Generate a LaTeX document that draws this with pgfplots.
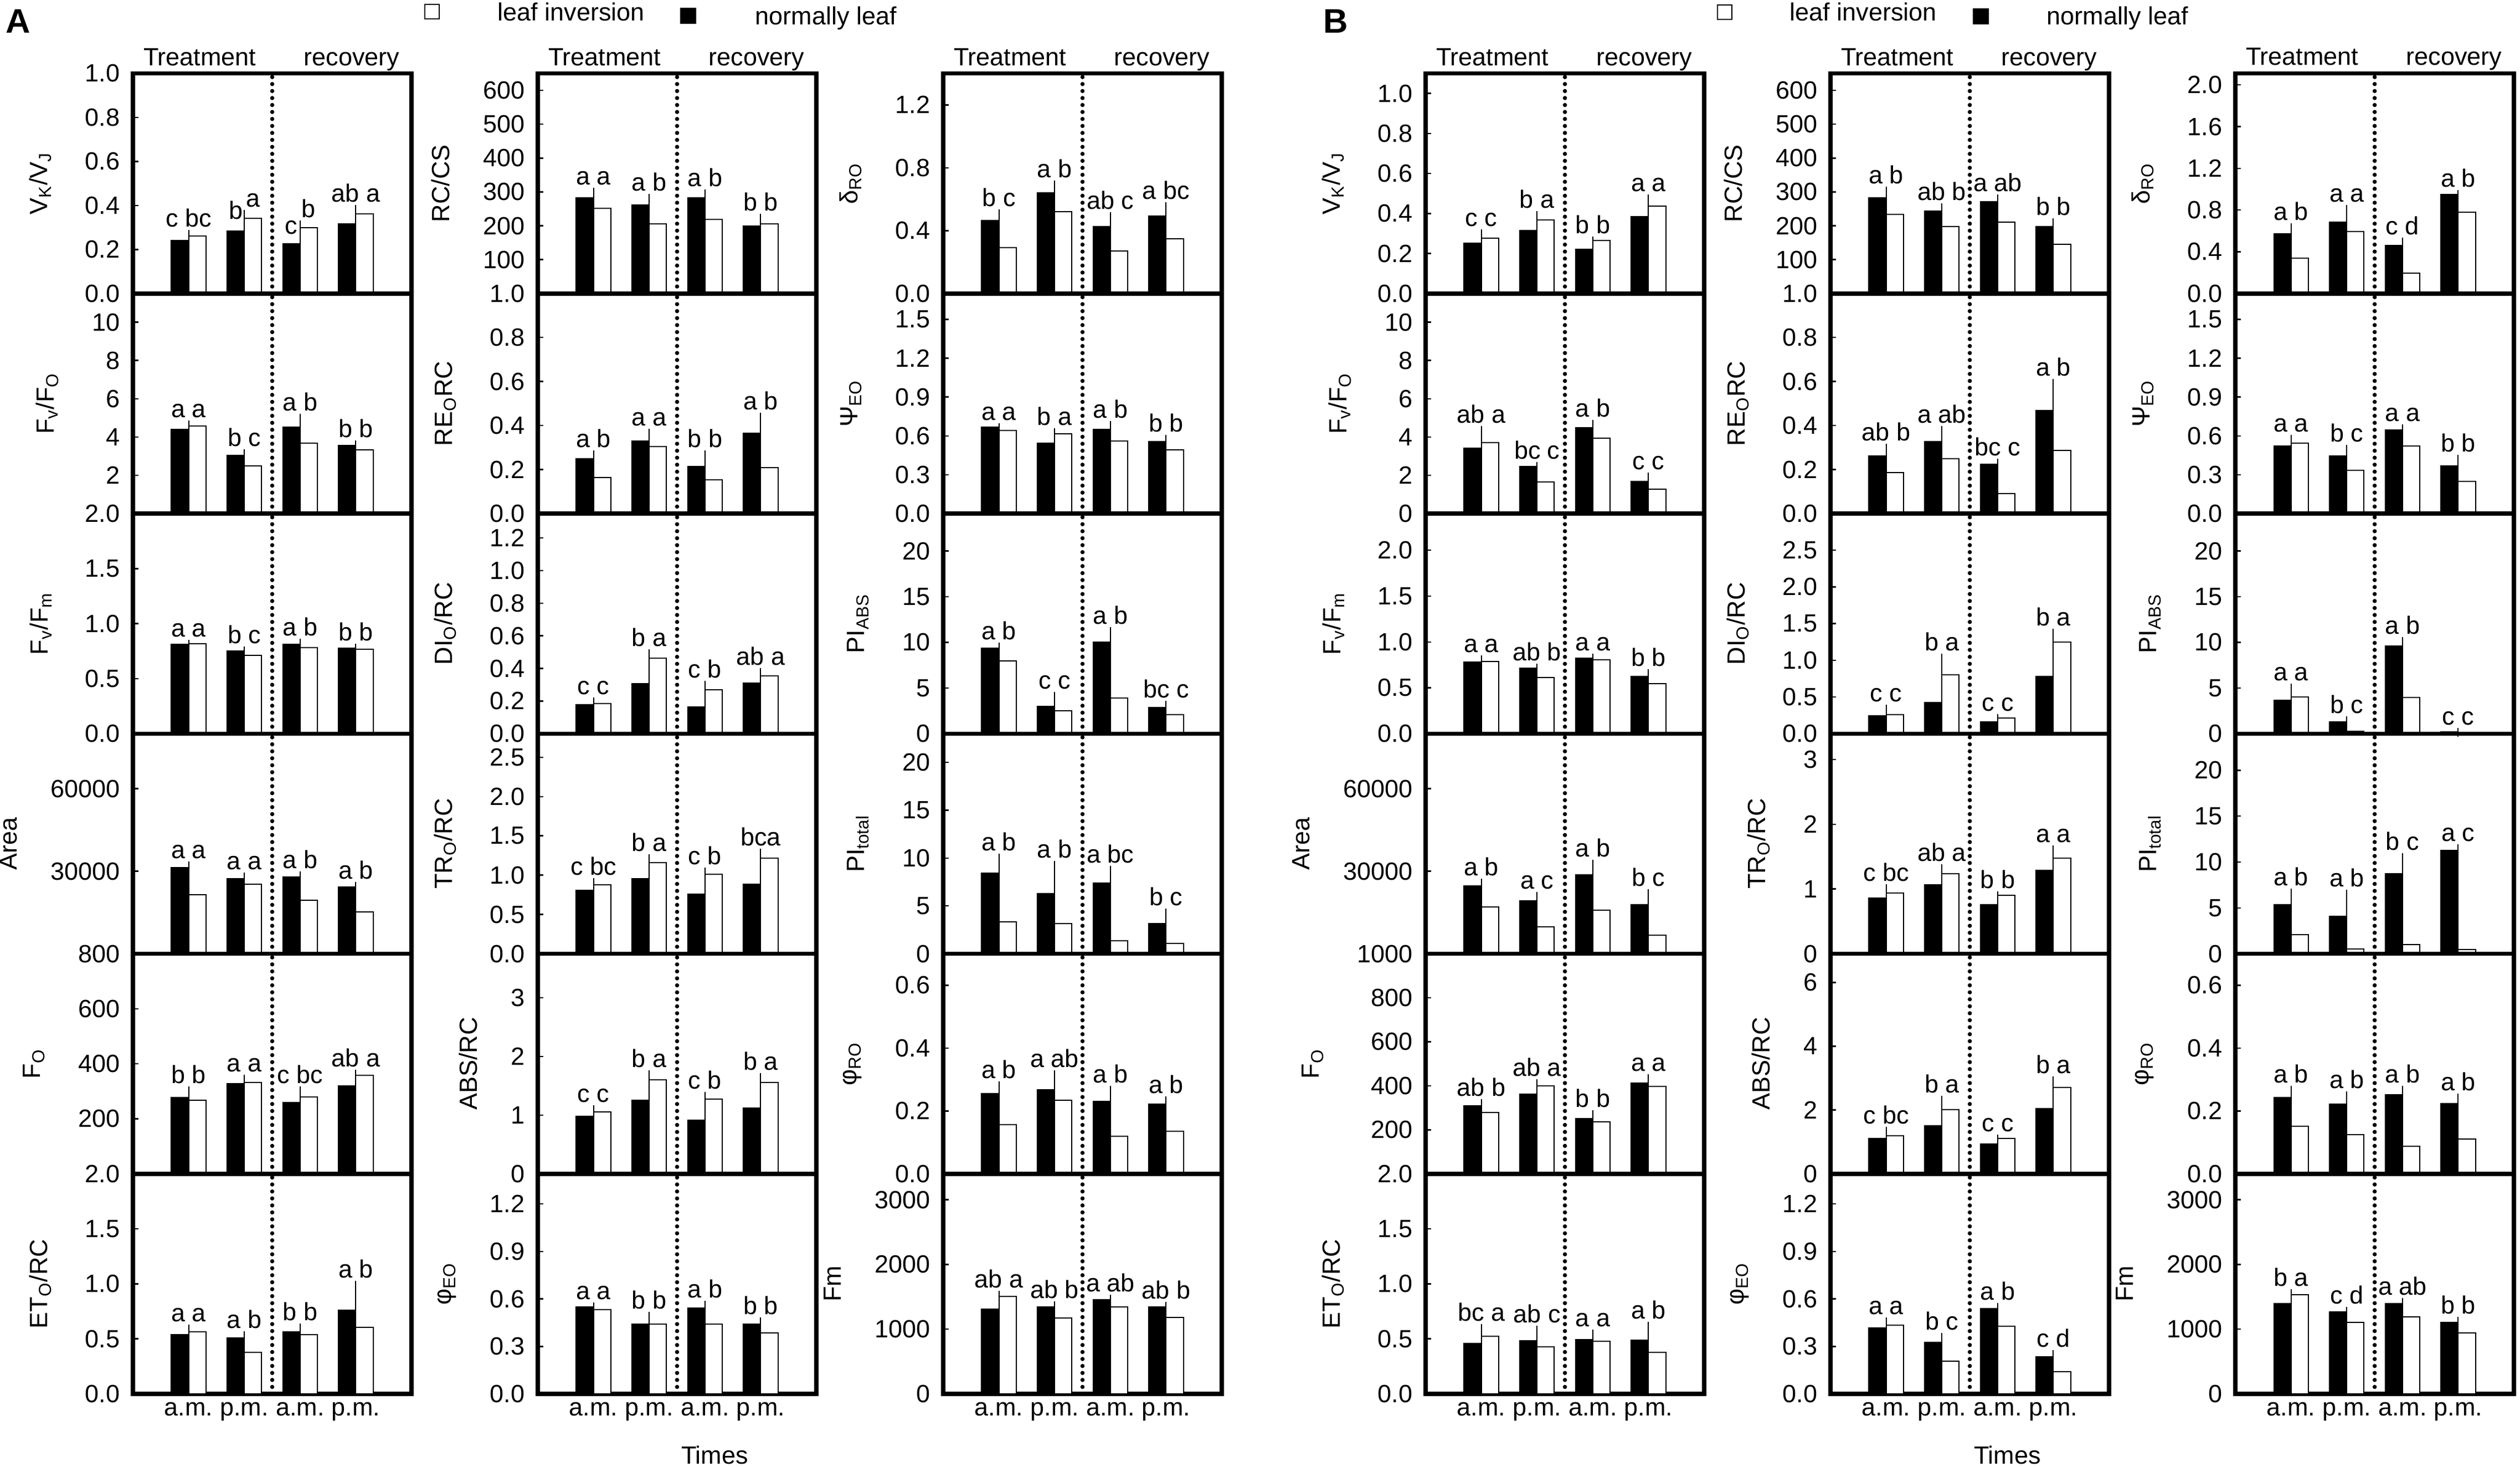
\documentclass[border=0pt]{standalone}
\usepackage{fontspec}
\setmainfont{Liberation Sans}
\usepackage{pgfplots}
\usepackage{pgfplotstable}
\pgfplotsset{compat=1.18}
\pgfplotstableset{col sep=comma}

% columns: group, black mean, black err, white mean, white err, letters (black, white, both), s=1 -> letters at own bar height
% ---------------- panel A ----------------
\pgfplotstableread{
x,b,be,w,we,lb,lw,g,s
1,0.241,0.007,0.262,0.011,c,bc,c bc,0
2,0.284,0.023,0.342,0.021,b,a,b a,1
3,0.226,0.013,0.299,0.017,c,b,c b,1
4,0.316,0.011,0.361,0.024,ab,a,ab a,0
}\tAaa
\pgfplotstableread{
x,b,be,w,we,lb,lw,g,s
1,4.41,0.12,4.56,0.12,a,a,a a,0
2,3.03,0.15,2.49,0.10,b,c,b c,0
3,4.53,0.49,3.67,0.39,a,b,a b,0
4,3.57,0.05,3.33,0.03,b,b,b b,0
}\tAab
\pgfplotstableread{
x,b,be,w,we,lb,lw,g,s
1,0.811,0.010,0.815,0.005,a,a,a a,0
2,0.751,0.010,0.712,0.005,b,c,b c,0
3,0.811,0.020,0.781,0.020,a,b,a b,0
4,0.777,0.008,0.768,0.005,b,b,b b,0
}\tAac
\pgfplotstableread{
x,b,be,w,we,lb,lw,g,s
1,31275,1000,21425,860,a,a,a a,0
2,27300,860,25227,700,a,a,a a,0
3,27991,700,19525,700,a,b,a b,0
4,24363,350,15205,860,a,b,a b,0
}\tAad
\pgfplotstableread{
x,b,be,w,we,lb,lw,g,s
1,278,26,268,22,b,b,b b,0
2,328,17,332,14,a,a,a a,0
3,259,26,280,24,c,bc,c bc,0
4,320,24,358,8,ab,a,ab a,0
}\tAae
\pgfplotstableread{
x,b,be,w,we,lb,lw,g,s
1,0.541,0.022,0.563,0.034,a,a,a a,0
2,0.511,0.026,0.377,0.043,a,b,a b,0
3,0.563,0.043,0.537,0.043,b,b,b b,0
4,0.758,0.238,0.606,0.052,a,b,a b,0
}\tAaf
\pgfplotstableread{
x,b,be,w,we,lb,lw,g,s
1,283,18,252,14,a,a,a a,0
2,261,22,205,17,a,b,a b,0
3,283,14,219,22,a,b,a b,0
4,199,9,206,19,b,b,b b,0
}\tAba
\pgfplotstableread{
x,b,be,w,we,lb,lw,g,s
1,0.249,0.022,0.163,0.005,a,b,a b,0
2,0.331,0.039,0.305,0.052,a,a,a a,0
3,0.213,0.058,0.153,0.019,b,b,b b,0
4,0.366,0.075,0.209,0.028,a,b,a b,0
}\tAbb
\pgfplotstableread{
x,b,be,w,we,lb,lw,g,s
1,0.178,0.005,0.183,0.017,c,c,c c,0
2,0.306,0.032,0.463,0.032,b,a,b a,0
3,0.163,0.037,0.271,0.032,c,b,c b,0
4,0.311,0.021,0.355,0.026,ab,a,ab a,0
}\tAbc
\pgfplotstableread{
x,b,be,w,we,lb,lw,g,s
1,0.805,0.030,0.878,0.042,c,bc,c bc,0
2,0.956,0.079,1.162,0.055,b,a,b a,0
3,0.757,0.066,1.011,0.036,c,b,c b,0
4,0.884,0.030,1.217,0.072,bc,a,bca,0
}\tAbd
\pgfplotstableread{
x,b,be,w,we,lb,lw,g,s
1,0.980,0.040,1.053,0.057,c,c,c c,0
2,1.249,0.106,1.600,0.106,b,a,b a,0
3,0.914,0.098,1.273,0.057,c,b,c b,0
4,1.118,0.049,1.559,0.098,b,a,b a,0
}\tAbe
\pgfplotstableread{
x,b,be,w,we,lb,lw,g,s
1,0.550,0.006,0.532,0.006,a,a,a a,0
2,0.441,0.055,0.441,0.021,b,b,b b,0
3,0.541,0.024,0.441,0.055,a,b,a b,0
4,0.441,0.019,0.384,0.015,b,b,b b,0
}\tAbf
\pgfplotstableread{
x,b,be,w,we,lb,lw,g,s
1,0.464,0.048,0.292,0.006,b,c,b c,0
2,0.642,0.054,0.522,0.090,a,b,a b,0
3,0.425,0.069,0.271,0.042,ab,c,ab c,0
4,0.494,0.063,0.347,0.021,a,bc,a bc,0
}\tAca
\pgfplotstableread{
x,b,be,w,we,lb,lw,g,s
1,0.666,0.004,0.640,0.011,a,a,a a,0
2,0.542,0.055,0.615,0.018,b,a,b a,0
3,0.651,0.037,0.560,0.048,a,b,a b,0
4,0.556,0.022,0.494,0.022,b,b,b b,0
}\tAcb
\pgfplotstableread{
x,b,be,w,we,lb,lw,g,s
1,9.33,0.26,7.98,0.36,a,b,a b,0
2,3.00,1.15,2.49,0.41,c,c,c c,0
3,10.0,1.30,3.89,1.34,a,b,a b,0
4,2.85,0.36,2.07,0.10,bc,c,bc c,0
}\tAcc
\pgfplotstableread{
x,b,be,w,we,lb,lw,g,s
1,8.41,1.69,3.33,0.25,a,b,a b,0
2,6.27,3.08,3.18,1.84,a,b,a b,0
3,7.41,1.40,1.39,0.20,a,bc,a bc,0
4,3.13,1.20,1.09,0.05,b,c,b c,0
}\tAcd
\pgfplotstableread{
x,b,be,w,we,lb,lw,g,s
1,0.256,0.027,0.157,0.003,a,b,a b,0
2,0.268,0.050,0.234,0.047,a,ab,a ab,0
3,0.231,0.037,0.120,0.011,a,b,a b,0
4,0.221,0.014,0.135,0.011,a,b,a b,0
}\tAce
\pgfplotstableread{
x,b,be,w,we,lb,lw,g,s
1,1313,22,1511,30,ab,a,ab a,0
2,1343,29,1174,22,ab,b,ab b,0
3,1453,22,1343,22,a,ab,a ab,0
4,1343,22,1181,15,ab,b,ab b,0
}\tAcf
% ---------------- panel B ----------------
\pgfplotstableread{
x,b,be,w,we,lb,lw,g,s
1,0.252,0.007,0.276,0.026,c,c,c c,0
2,0.314,0.024,0.367,0.026,b,a,b a,0
3,0.221,0.022,0.264,0.003,b,b,b b,0
4,0.383,0.045,0.438,0.040,a,a,a a,0
}\tBaa
\pgfplotstableread{
x,b,be,w,we,lb,lw,g,s
1,3.43,0.17,3.70,0.70,ab,a,ab a,0
2,2.47,0.03,1.65,0.50,bc,c,bc c,0
3,4.49,0.22,3.95,0.22,a,b,a b,0
4,1.68,0.27,1.26,0.35,c,c,c c,0
}\tBab
\pgfplotstableread{
x,b,be,w,we,lb,lw,g,s
1,0.779,0.010,0.790,0.026,a,a,a a,0
2,0.712,0.010,0.613,0.073,ab,b,ab b,0
3,0.826,0.005,0.805,0.005,a,a,a a,0
4,0.623,0.042,0.545,0.078,b,b,b b,0
}\tBac
\pgfplotstableread{
x,b,be,w,we,lb,lw,g,s
1,24708,1210,16933,2937,a,b,a b,0
2,19179,1900,9849,1900,a,c,a c,0
3,28683,4147,15896,864,a,b,a b,0
4,17797,4320,6739,2419,b,c,b c,0
}\tBad
\pgfplotstableread{
x,b,be,w,we,lb,lw,g,s
1,309,15,279,15,ab,b,ab b,0
2,361,15,400,13,ab,a,ab a,0
3,251,22,236,22,b,b,b b,0
4,413,22,398,15,a,a,a a,0
}\tBae
\pgfplotstableread{
x,b,be,w,we,lb,lw,g,s
1,0.459,0.026,0.524,0.078,bc,a,bc a,0
2,0.485,0.100,0.429,0.087,ab,c,ab c,0
3,0.494,0.056,0.480,0.035,a,a,a a,0
4,0.489,0.134,0.377,0.082,a,b,a b,0
}\tBaf
\pgfplotstableread{
x,b,be,w,we,lb,lw,g,s
1,283,22,233,10,a,b,a b,0
2,243,12,197,11,ab,b,ab b,0
3,271,11,211,19,a,ab,a ab,0
4,197,14,146,12,b,b,b b,0
}\tBba
\pgfplotstableread{
x,b,be,w,we,lb,lw,g,s
1,0.262,0.039,0.187,0.082,ab,b,ab b,0
2,0.327,0.054,0.249,0.041,a,ab,a ab,0
3,0.224,0.008,0.090,0.007,bc,c,bc c,0
4,0.467,0.129,0.288,0.063,a,b,a b,0
}\tBbb
\pgfplotstableread{
x,b,be,w,we,lb,lw,g,s
1,0.240,0.006,0.260,0.084,c,c,c c,0
2,0.422,0.046,0.799,0.240,b,a,b a,0
3,0.162,0.020,0.214,0.006,c,c,c c,0
4,0.779,0.215,1.247,0.136,b,a,b a,0
}\tBbc
\pgfplotstableread{
x,b,be,w,we,lb,lw,g,s
1,0.860,0.015,0.934,0.088,c,bc,c bc,0
2,1.066,0.066,1.235,0.088,ab,a,ab a,0
3,0.757,0.066,0.904,0.007,b,b,b b,0
4,1.287,0.147,1.478,0.140,a,a,a a,0
}\tBbd
\pgfplotstableread{
x,b,be,w,we,lb,lw,g,s
1,1.11,0.015,1.20,0.165,c,bc,c bc,0
2,1.50,0.075,2.01,0.33,b,a,b a,0
3,0.93,0.09,1.11,0.015,c,c,c c,0
4,2.04,0.36,2.70,0.24,b,a,b a,0
}\tBbe
\pgfplotstableread{
x,b,be,w,we,lb,lw,g,s
1,0.417,0.021,0.435,0.024,a,a,a a,0
2,0.326,0.036,0.208,0.018,b,c,b c,0
3,0.538,0.015,0.426,0.030,a,b,a b,0
4,0.236,0.018,0.139,0.030,c,d,c d,0
}\tBbf
\pgfplotstableread{
x,b,be,w,we,lb,lw,g,s
1,0.573,0.068,0.341,0.114,a,b,a b,0
2,0.682,0.132,0.591,0.041,a,a,a a,0
3,0.459,0.041,0.195,0.027,c,d,c d,0
4,0.950,0.005,0.777,0.041,a,b,a b,0
}\tBca
\pgfplotstableread{
x,b,be,w,we,lb,lw,g,s
1,0.523,0.026,0.545,0.037,a,a,a a,0
2,0.443,0.062,0.333,0.051,b,c,b c,0
3,0.648,0.015,0.523,0.037,a,a,a a,0
4,0.366,0.059,0.249,0.077,b,b,b b,0
}\tBcb
\pgfplotstableread{
x,b,be,w,we,lb,lw,g,s
1,3.63,0.62,4.04,1.04,a,a,a a,0
2,1.30,0.20,0.26,0.10,b,c,b c,0
3,9.59,0.57,3.99,0.83,a,b,a b,0
4,0.20,0.05,0.05,0.02,c,c,c c,0
}\tBcc
\pgfplotstableread{
x,b,be,w,we,lb,lw,g,s
1,5.35,1.35,2.08,0.52,a,b,a b,0
2,4.10,2.50,0.52,0.20,a,b,a b,0
3,8.73,1.82,0.99,0.05,b,c,b c,0
4,11.27,0.26,0.47,0.05,a,c,a c,0
}\tBcd
\pgfplotstableread{
x,b,be,w,we,lb,lw,g,s
1,0.242,0.027,0.151,0.047,a,b,a b,0
2,0.221,0.029,0.125,0.002,a,b,a b,0
3,0.252,0.017,0.087,0.005,a,b,a b,0
4,0.224,0.020,0.110,0.017,a,b,a b,0
}\tBce
\pgfplotstableread{
x,b,be,w,we,lb,lw,g,s
1,1394,37,1533,30,b,a,b a,0
2,1269,22,1108,15,c,d,c d,0
3,1394,29,1189,29,a,ab,a ab,0
4,1108,29,946,22,b,b,b b,0
}\tBcf

\pgfplotsset{
  cell/.style={
    scale only axis, width=50.3mm, height=39.725mm, anchor=north west,
    xmin=0, xmax=5, ymin=0,
    xtick={1,2,3,4}, xticklabels={}, xtick style={draw=none},
    ytick pos=left, tick align=inside, major tick length=1mm,
    ytick style={line width=0.25mm, black},
    axis line style={line width=0.75mm},
    clip=false, scaled y ticks=false,
    /pgf/number format/assume math mode=true,
    yticklabel style={xshift=-0.8mm},
    ylabel shift=3mm,
  },
  dec1/.style={yticklabel style={/pgf/number format/.cd, fixed, fixed zerofill, precision=1}},
  int/.style={yticklabel style={/pgf/number format/.cd, fixed, precision=0, 1000 sep={}}},
  bot/.style={xticklabels={a.m.,p.m.,a.m.,p.m.}},
  head/.style={extra description/.append code={
    \node[anchor=base, yshift=1.45mm] at (0.24,1) {Treatment};
    \node[anchor=base, yshift=1.45mm] at (0.785,1) {recovery};}},
  times/.style={extra description/.append code={
    \node[anchor=base, yshift=-12.6mm] at (0.635,0) {Times};}},
  blk/.style={ybar, bar width=0.31, bar shift=-0.155, fill=black, draw=black, line width=0.2mm,
    error bars/.cd, y dir=plus, y explicit,
    error bar style={line width=0.2mm, black},
    error mark options={line width=0.2mm, mark size=0.65mm, black}},
  wht/.style={ybar, bar width=0.31, bar shift=0.155, fill=white, draw=black, line width=0.2mm,
    error bars/.cd, y dir=plus, y explicit,
    error bar style={line width=0.2mm, black},
    error mark options={line width=0.2mm, mark size=0.65mm, black}},
  lbl/.style={draw=none, mark=none, nodes near coords, point meta=explicit symbolic,
    nodes near coords style={anchor=base, yshift=1.2mm, inner sep=0pt, black}},
  dots/.style={line width=0.75mm, line cap=round, dash pattern=on 0pt off 1.26mm, black},
}

% #1 left edge (px), #2 row, #3 ymax, #4 yticks, #5 ylabel, #6 table, #7 extra keys
\newcommand\panel[7]{%
  \begin{axis}[cell, at={({#1*0.1mm},{-(132.5+397.25*#2)*0.1mm})},
      ymax=#3, ytick={#4}, ylabel={#5}, #7]
    \addplot[blk] table[x=x, y=b, y error=be] {#6};
    \addplot[wht] table[x=x, y=w, y error=we] {#6};
    % both letters of a group, centred on the group
    \addplot[lbl, restrict expr to domain={\thisrow{s}}{-0.5:0.5}] table[x=x,
      y expr={max(\thisrow{b}+\thisrow{be},\thisrow{w}+\thisrow{we})}, meta=g] {#6};
    % letters over their own bars
    \addplot[lbl, restrict expr to domain={\thisrow{s}}{0.5:1.5}] table[x expr=\thisrow{x}-0.155,
      y expr=\thisrow{b}+\thisrow{be}, meta=lb] {#6};
    \addplot[lbl, restrict expr to domain={\thisrow{s}}{0.5:1.5}] table[x expr=\thisrow{x}+0.155,
      y expr=\thisrow{w}+\thisrow{we}, meta=lw] {#6};
    \addplot[dots] coordinates {(2.5,0) (2.5,#3)};
  \end{axis}}

\begin{document}
\fontsize{12.8}{15.4}\selectfont
\begin{tikzpicture}
\path[use as bounding box] (0,0) rectangle (455mm,-264.7mm);

% panel labels and legends
\node[anchor=base, inner sep=0, font=\bfseries\fontsize{17.5}{20}\selectfont] at (3.3mm,-6.0mm) {A};
\node[anchor=base, inner sep=0, font=\bfseries\fontsize{17.5}{20}\selectfont] at (241.2mm,-6.0mm) {B};
\node[draw=black, line width=0.2mm, fill=white, minimum size=2.6mm, inner sep=0] at (78.0mm,-2.15mm) {};
\node[anchor=base west, inner sep=0] at (89.8mm,-3.8mm) {leaf inversion};
\node[fill=black, minimum size=2.9mm, inner sep=0] at (124.2mm,-2.9mm) {};
\node[anchor=base west, inner sep=0] at (136.3mm,-4.5mm) {normally leaf};
\node[draw=black, line width=0.2mm, fill=white, minimum size=2.6mm, inner sep=0] at (311.35mm,-2.25mm) {};
\node[anchor=base west, inner sep=0] at (323.1mm,-3.8mm) {leaf inversion};
\node[fill=black, minimum size=2.9mm, inner sep=0] at (357.65mm,-3.0mm) {};
\node[anchor=base west, inner sep=0] at (369.5mm,-4.5mm) {normally leaf};

% ---- panel A ----
\panel{240}{0}{1.0}{0,0.2,0.4,0.6,0.8,1.0}{V\textsubscript{K}/V\textsubscript{J}}{\tAaa}{dec1,head}
\panel{240}{1}{11.5}{2,4,6,8,10}{F\textsubscript{v}/F\textsubscript{O}}{\tAab}{int}
\panel{240}{2}{2.0}{0,0.5,1.0,1.5,2.0}{F\textsubscript{v}/F\textsubscript{m}}{\tAac}{dec1}
\panel{240}{3}{80000}{30000,60000}{Area}{\tAad}{int}
\panel{240}{4}{800}{200,400,600,800}{F\textsubscript{O}}{\tAae}{int}
\panel{240}{5}{2.0}{0,0.5,1.0,1.5,2.0}{ET\textsubscript{O}/RC}{\tAaf}{dec1,bot}

\panel{971}{0}{650}{100,200,300,400,500,600}{RC/CS}{\tAba}{int,head}
\panel{971}{1}{1.0}{0,0.2,0.4,0.6,0.8,1.0}{RE\textsubscript{O}RC}{\tAbb}{dec1}
\panel{971}{2}{1.35}{0,0.2,0.4,0.6,0.8,1.0,1.2}{DI\textsubscript{O}/RC}{\tAbc}{dec1}
\panel{971}{3}{2.8}{0,0.5,1.0,1.5,2.0,2.5}{TR\textsubscript{O}/RC}{\tAbd}{dec1}
\panel{971}{4}{3.75}{0,1,2,3}{ABS/RC}{\tAbe}{int}
\panel{971}{5}{1.39}{0,0.3,0.6,0.9,1.2}{φ\textsubscript{EO}}{\tAbf}{dec1,bot,times}

\panel{1703}{0}{1.4}{0,0.4,0.8,1.2}{δ\textsubscript{RO}}{\tAca}{dec1,head}
\panel{1703}{1}{1.7}{0,0.3,0.6,0.9,1.2,1.5}{Ψ\textsubscript{EO}}{\tAcb}{dec1}
\panel{1703}{2}{24.1}{0,5,10,15,20}{PI\textsubscript{ABS}}{\tAcc}{int}
\panel{1703}{3}{23}{0,5,10,15,20}{PI\textsubscript{total}}{\tAcd}{int}
\panel{1703}{4}{0.7}{0,0.2,0.4,0.6}{φ\textsubscript{RO}}{\tAce}{dec1}
\panel{1703}{5}{3400}{0,1000,2000,3000}{Fm}{\tAcf}{int,bot}

% ---- panel B ----
\panel{2574}{0}{1.1}{0,0.2,0.4,0.6,0.8,1.0}{V\textsubscript{K}/V\textsubscript{J}}{\tBaa}{dec1,head}
\panel{2574}{1}{11.5}{0,2,4,6,8,10}{F\textsubscript{v}/F\textsubscript{O}}{\tBab}{int}
\panel{2574}{2}{2.4}{0,0.5,1.0,1.5,2.0}{F\textsubscript{v}/F\textsubscript{m}}{\tBac}{dec1}
\panel{2574}{3}{80000}{30000,60000}{Area}{\tBad}{int}
\panel{2574}{4}{1000}{200,400,600,800,1000}{F\textsubscript{O}}{\tBae}{int}
\panel{2574}{5}{2.0}{0,0.5,1.0,1.5,2.0}{ET\textsubscript{O}/RC}{\tBaf}{dec1,bot}

\panel{3305}{0}{650}{100,200,300,400,500,600}{RC/CS}{\tBba}{int,head}
\panel{3305}{1}{1.0}{0,0.2,0.4,0.6,0.8,1.0}{RE\textsubscript{O}RC}{\tBbb}{dec1}
\panel{3305}{2}{3.0}{0,0.5,1.0,1.5,2.0,2.5}{DI\textsubscript{O}/RC}{\tBbc}{dec1}
\panel{3305}{3}{3.4}{0,1,2,3}{TR\textsubscript{O}/RC}{\tBbd}{int}
\panel{3305}{4}{6.9}{0,2,4,6}{ABS/RC}{\tBbe}{int}
\panel{3305}{5}{1.39}{0,0.3,0.6,0.9,1.2}{φ\textsubscript{EO}}{\tBbf}{dec1,bot,times}

\panel{4036}{0}{2.11}{0,0.4,0.8,1.2,1.6,2.0}{δ\textsubscript{RO}}{\tBca}{dec1,head}
\panel{4036}{1}{1.7}{0,0.3,0.6,0.9,1.2,1.5}{Ψ\textsubscript{EO}}{\tBcb}{dec1}
\panel{4036}{2}{24.1}{0,5,10,15,20}{PI\textsubscript{ABS}}{\tBcc}{int}
\panel{4036}{3}{24}{0,5,10,15,20}{PI\textsubscript{total}}{\tBcd}{int}
\panel{4036}{4}{0.7}{0,0.2,0.4,0.6}{φ\textsubscript{RO}}{\tBce}{dec1}
\panel{4036}{5}{3400}{0,1000,2000,3000}{Fm}{\tBcf}{int,bot}
\end{tikzpicture}
\end{document}
